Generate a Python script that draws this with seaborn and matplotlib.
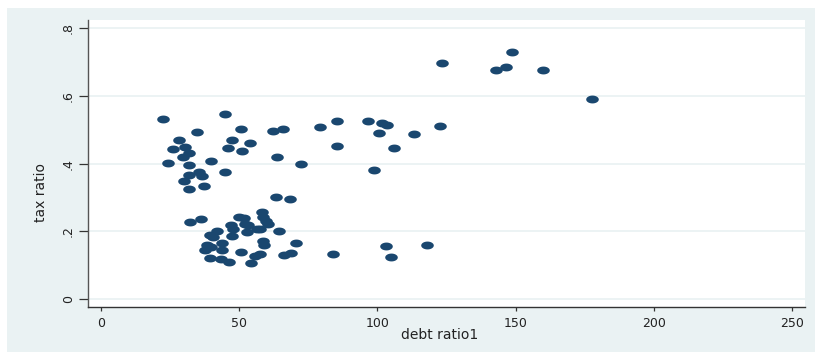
import numpy as np
import pandas as pd
import matplotlib
matplotlib.use("Agg")
import matplotlib.pyplot as plt
from matplotlib.path import Path
from matplotlib.patches import Rectangle
import seaborn as sns

# values
debt_ratio = [
    123.4, 143.0, 146.4, 148.8, 159.9, 177.6,
    122.7, 113.3, 103.5, 101.5, 96.5, 100.4, 106.0, 98.7, 85.4, 79.2, 85.4,
    72.2, 65.7, 62.3, 63.7, 63.3, 68.3,
    22.4, 44.9, 34.8, 50.6, 28.2, 47.5, 53.7, 26.1, 30.2, 31.8, 29.7, 46.0,
    50.9, 24.3, 31.6, 39.8, 35.4, 44.8, 31.9, 36.4, 30.1, 37.2, 31.6,
    32.1, 36.1, 50.0, 51.7, 58.3, 58.5, 59.6, 60.5, 46.8, 47.8, 52.0, 53.1,
    56.5, 57.5, 42.0, 52.8, 64.4, 39.4, 40.6, 47.5, 43.8, 58.7, 59.0, 70.4,
    38.2, 39.9, 37.5, 43.8, 50.6, 55.6, 57.5, 66.1, 68.6, 39.4, 43.4, 46.3,
    54.2, 83.8, 103.0, 104.9, 117.8,
]
tax_ratio = [
    0.696, 0.676, 0.685, 0.728, 0.675, 0.590,
    0.510, 0.487, 0.515, 0.520, 0.525, 0.490, 0.446, 0.382, 0.525, 0.507, 0.452,
    0.398, 0.502, 0.497, 0.418, 0.302, 0.297,
    0.532, 0.547, 0.494, 0.501, 0.468, 0.468, 0.461, 0.443, 0.450, 0.430, 0.418, 0.446,
    0.437, 0.402, 0.396, 0.408, 0.376, 0.376, 0.366, 0.362, 0.349, 0.334, 0.326,
    0.228, 0.237, 0.242, 0.240, 0.256, 0.244, 0.231, 0.222, 0.219, 0.206, 0.221, 0.219,
    0.208, 0.206, 0.200, 0.197, 0.202, 0.189, 0.184, 0.188, 0.165, 0.173, 0.160, 0.167,
    0.160, 0.154, 0.144, 0.144, 0.139, 0.128, 0.134, 0.130, 0.135, 0.123, 0.118, 0.111,
    0.106, 0.133, 0.158, 0.126, 0.159,
]
x_ticks = [0, 50, 100, 150, 200, 250]
y_ticks = [0, 0.2, 0.4, 0.6, 0.8]
y_tick_labels = ["0", ".2", ".4", ".6", ".8"]

df = pd.DataFrame({"debt ratio1": debt_ratio, "tax ratio": tax_ratio})

NAVY = "#1A476F"
BG = "#EAF2F3"

sns.set_style("white")
plt.rcParams["font.family"] = ["DejaVu Sans"]

fig = plt.figure(figsize=(8.15, 3.52), dpi=100, facecolor="white")
fig.patches.append(Rectangle((7 / 815, 0), 1, 1 - 8 / 352, transform=fig.transFigure,
                             facecolor=BG, edgecolor="none", zorder=-10))
ax = fig.add_axes([0.1083, 0.1278, 0.8794, 0.8153])
ax.set_facecolor("white")

# ellipse marker (Stata markers look squashed)
t = np.linspace(0, 2 * np.pi, 60)
ellipse = Path(np.column_stack([1.6 * np.cos(t), np.sin(t)]))

sns.scatterplot(data=df, x="debt ratio1", y="tax ratio", ax=ax, color=NAVY,
                marker=ellipse, s=82, linewidth=0, zorder=3)

ax.set_xlim(-4.7, 254.8)
ax.set_ylim(-0.0227, 0.823)
ax.set_xticks(x_ticks)
ax.set_yticks(y_ticks)
ax.set_yticklabels(y_tick_labels, rotation=90, va="center")

for yv in y_ticks:
    ax.axhline(yv, color=BG, lw=1.3, zorder=1)

for side in ["top", "right"]:
    ax.spines[side].set_visible(False)
ax.spines["left"].set_color("#555555")
ax.spines["bottom"].set_color("#333333")
ax.spines["left"].set_linewidth(1.0)
ax.spines["bottom"].set_linewidth(1.0)

ax.tick_params(axis="y", length=6.5, width=0.9, color="#333333", pad=3,
               labelsize=9, labelcolor="#222222", left=True)
ax.tick_params(axis="x", length=3, width=0.9, color="#333333", pad=4,
               labelsize=9, labelcolor="#222222", bottom=True)

ax.set_xlabel("debt ratio1", fontsize=10, color="#222222")
ax.set_ylabel("tax ratio", fontsize=10, color="#222222")
ax.xaxis.set_label_coords(0.49, -0.072)
ax.yaxis.set_label_coords(-0.056, 0.40)

fig.savefig("out.png", dpi=100, facecolor=fig.get_facecolor())
